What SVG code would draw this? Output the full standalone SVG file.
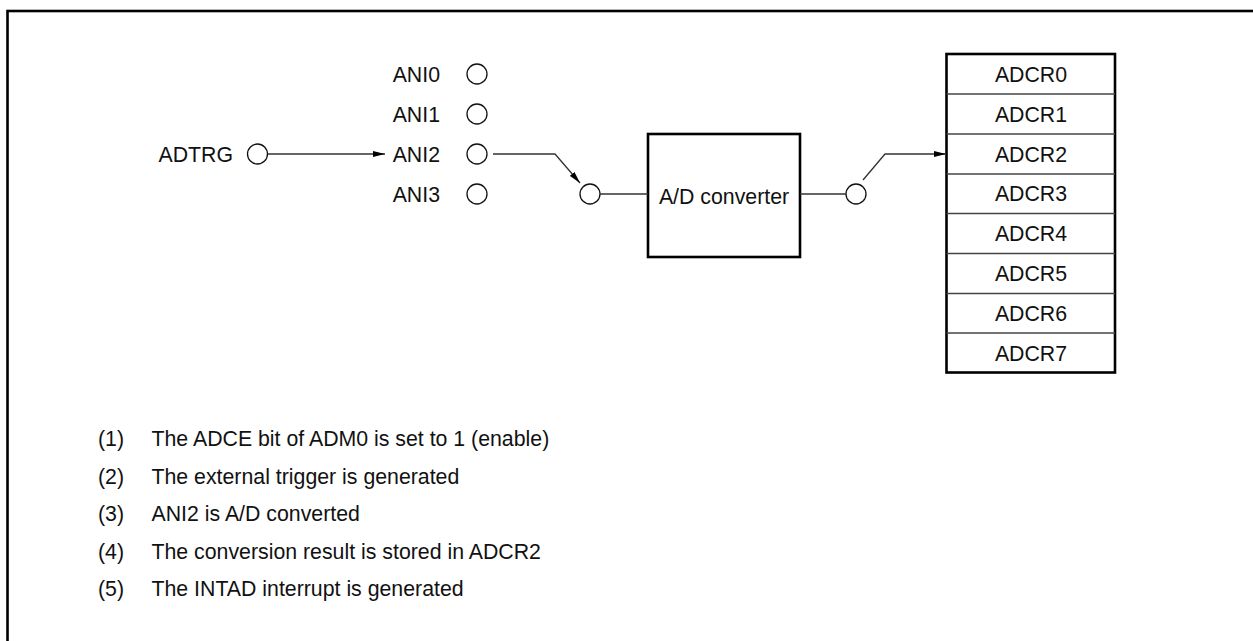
<svg xmlns="http://www.w3.org/2000/svg" width="1253" height="641" viewBox="0 0 1253 641">
<style>
text{font-family:"Liberation Sans",Arial,Helvetica,sans-serif;font-size:21.3px;fill:#111}
.pin{fill:#fff;stroke:#111;stroke-width:1.3}
.ln{fill:none;stroke:#333;stroke-width:1.3}
.box{fill:#fff;stroke:#000;stroke-width:2.6}
.div{stroke:#444;stroke-width:1.3}
</style>
<defs>
<marker id="ah" viewBox="0 0 12 6" refX="12" refY="3" markerWidth="12" markerHeight="6" markerUnits="userSpaceOnUse" orient="auto">
<path d="M0,0 L12,3 L0,6 Z" fill="#000"/>
</marker>
</defs>
<rect x="7.5" y="11" width="1270" height="650" fill="none" stroke="#000" stroke-width="2.6"/>

<g id="adtrg">
<text x="233" y="161.5" text-anchor="end">ADTRG</text>
<circle class="pin" cx="257.5" cy="154" r="10"/>
</g>
<g id="ani0"><text x="440" y="81.5" text-anchor="end">ANI0</text><circle class="pin" cx="477" cy="74" r="10"/></g>
<g id="ani1"><text x="440" y="121.5" text-anchor="end">ANI1</text><circle class="pin" cx="477" cy="114" r="10"/></g>
<g id="ani2"><text x="440" y="161.5" text-anchor="end">ANI2</text><circle class="pin" cx="477" cy="154" r="10"/></g>
<g id="ani3"><text x="440" y="201.5" text-anchor="end">ANI3</text><circle class="pin" cx="477" cy="194" r="10"/></g>

<g id="sw-in"><circle class="pin" cx="590" cy="194" r="10"/></g>
<g id="adc">
<rect class="box" x="648" y="134" width="152" height="123"/>
<text x="724" y="203.5" text-anchor="middle">A/D converter</text>
</g>
<g id="sw-out"><circle class="pin" cx="856" cy="194" r="10"/></g>

<g id="adcr">
<rect class="box" x="946.5" y="54" width="168.5" height="318.5"/>
<line class="div" x1="946.5" y1="94" x2="1115" y2="94"/>
<line class="div" x1="946.5" y1="134" x2="1115" y2="134"/>
<line class="div" x1="946.5" y1="174" x2="1115" y2="174"/>
<line class="div" x1="946.5" y1="213.5" x2="1115" y2="213.5"/>
<line class="div" x1="946.5" y1="253.5" x2="1115" y2="253.5"/>
<line class="div" x1="946.5" y1="293.5" x2="1115" y2="293.5"/>
<line class="div" x1="946.5" y1="333" x2="1115" y2="333"/>
<text x="1031" y="81.5" text-anchor="middle">ADCR0</text>
<text x="1031" y="121.5" text-anchor="middle">ADCR1</text>
<text x="1031" y="161.5" text-anchor="middle">ADCR2</text>
<text x="1031" y="201" text-anchor="middle">ADCR3</text>
<text x="1031" y="241" text-anchor="middle">ADCR4</text>
<text x="1031" y="281" text-anchor="middle">ADCR5</text>
<text x="1031" y="320.5" text-anchor="middle">ADCR6</text>
<text x="1031" y="360.5" text-anchor="middle">ADCR7</text>
</g>

<g id="connectors">
<line class="ln" x1="268" y1="154" x2="385" y2="154" marker-end="url(#ah)"/>
<polyline class="ln" points="493,154 555,154 580,183" marker-end="url(#ah)"/>
<line class="ln" x1="600" y1="194" x2="648" y2="194"/>
<line class="ln" x1="800" y1="194" x2="846" y2="194"/>
<polyline class="ln" points="863,180 885,154 946,154" marker-end="url(#ah)"/>
</g>

<g id="notes">
<text x="98" y="446">(1)</text><text x="151.5" y="446">The ADCE bit of ADM0 is set to 1 (enable)</text>
<text x="98" y="483.5">(2)</text><text x="151.5" y="483.5">The external trigger is generated</text>
<text x="98" y="521">(3)</text><text x="151.5" y="521">ANI2 is A/D converted</text>
<text x="98" y="558.5">(4)</text><text x="151.5" y="558.5">The conversion result is stored in ADCR2</text>
<text x="98" y="596">(5)</text><text x="151.5" y="596">The INTAD interrupt is generated</text>
</g>
</svg>
